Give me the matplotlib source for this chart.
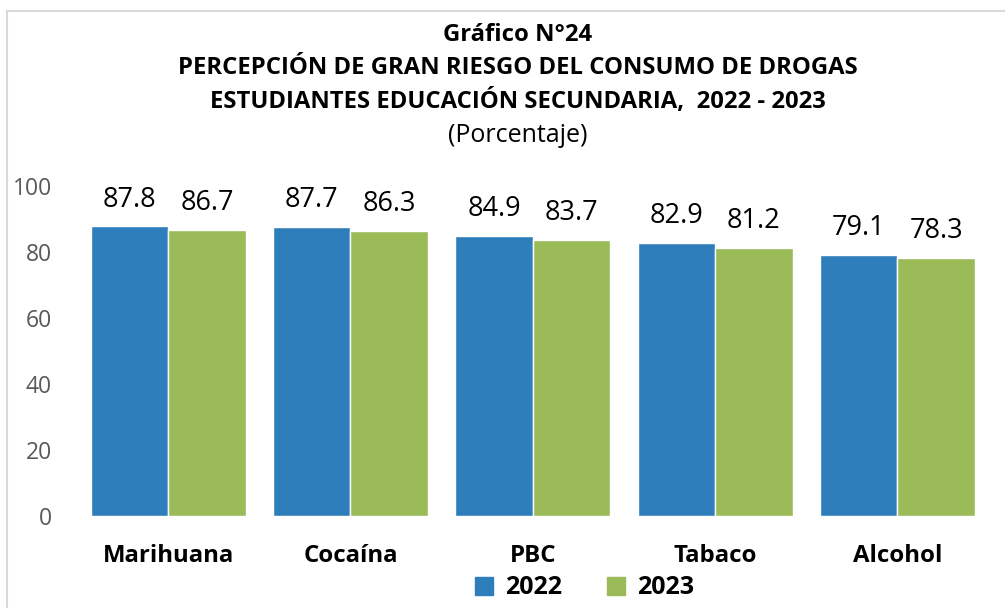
import matplotlib
matplotlib.use("Agg")
import matplotlib.pyplot as plt
import numpy as np
from matplotlib.lines import Line2D
from matplotlib.patches import Patch

categories = ["Marihuana", "Cocaína", "PBC", "Tabaco", "Alcohol"]
values_2022 = [87.8, 87.7, 84.9, 82.9, 79.1]
values_2023 = [86.7, 86.3, 83.7, 81.2, 78.3]
series_names = ["2022", "2023"]
yticks = [0, 20, 40, 60, 80, 100]

color_2022 = "#2e7ebc"
color_2023 = "#9bbb59"

plt.rcParams["font.family"] = ["Open Sans", "DejaVu Sans"]

fig = plt.figure(figsize=(10.05, 6.08), dpi=100)
ax = fig.add_axes([0.0766, 0.151, 0.907, 0.543])

x = np.arange(len(categories))
w = 0.425
b1 = ax.bar(x - w / 2, values_2022, w, color=color_2022, edgecolor="white", linewidth=1)
b2 = ax.bar(x + w / 2, values_2023, w, color=color_2023, edgecolor="white", linewidth=1)

# value labels above bars
for bars, vals in [(b1, values_2022), (b2, values_2023)]:
    for rect, v in zip(bars, vals):
        ax.text(rect.get_x() + rect.get_width() / 2, v + 6.0, f"{v:.1f}",
                ha="center", va="baseline", fontsize=19.5, color="black")

ax.set_xlim(-0.5, len(categories) - 0.5)
ax.set_ylim(0, 100)
ax.set_yticks(yticks)
ax.set_yticklabels([str(t) for t in yticks], fontsize=16.5, color="#595959")
ax.set_xticks(x)
ax.set_xticklabels(categories, fontsize=17.3, fontweight="bold", color="black")
ax.tick_params(axis="both", length=0)
ax.tick_params(axis="x", pad=20)
ax.tick_params(axis="y", pad=18)
for s in ax.spines.values():
    s.set_visible(False)

titles = ["Gráfico N°24",
          "PERCEPCIÓN DE GRAN RIESGO DEL CONSUMO DE DROGAS",
          "ESTUDIANTES EDUCACIÓN SECUNDARIA,  2022 - 2023"]
ys = [35, 68, 101]
for t, yy in zip(titles, ys):
    fig.text(0.515, 1 - yy / 608, t, ha="center", va="center", fontsize=17.2, fontweight="bold")
fig.text(0.515, 1 - 135 / 608, "(Porcentaje)", ha="center", va="center", fontsize=18)

handles = [Patch(color=color_2022), Patch(color=color_2023)]
fig.legend(handles, series_names, loc="center", bbox_to_anchor=(0.582, 1 - 588 / 608),
           ncol=2, frameon=False, prop={"size": 18, "weight": "bold"},
           handlelength=0.7, handleheight=0.7, columnspacing=1.8, handletextpad=0.5)

# light grey chart border
fig.add_artist(Line2D([7 / 1005, 7 / 1005], [0, 1 - 11 / 608], color="#d9d9d9", lw=1.5))
fig.add_artist(Line2D([7 / 1005, 1], [1 - 11 / 608, 1 - 11 / 608], color="#d9d9d9", lw=1.5))

fig.savefig("out.png", dpi=100)
